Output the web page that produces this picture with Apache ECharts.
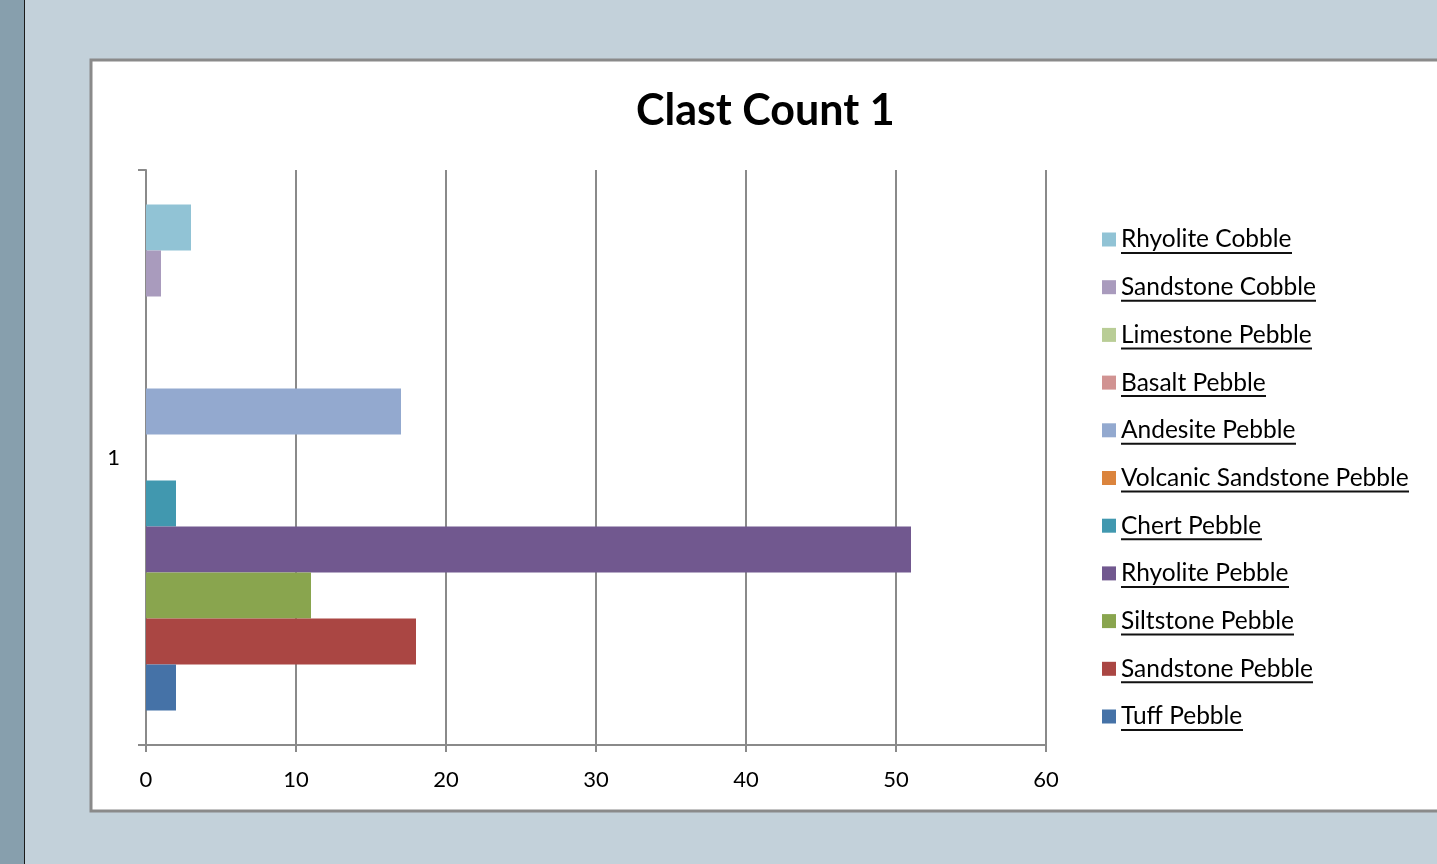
<!DOCTYPE html>
<html>
<head>
<meta charset="utf-8">
<script src="https://cdn.jsdelivr.net/npm/echarts@6/dist/echarts.min.js"></script>
<style>
  html, body { margin: 0; padding: 0; background: #c3d1da; }
  #chart { width: 1437px; height: 864px; }
</style>
</head>
<body>
<div id="chart"></div>
<script>
// data
var categories = ['1'];
var seriesNames = ['Tuff Pebble', 'Sandstone Pebble', 'Siltstone Pebble', 'Rhyolite Pebble',
  'Chert Pebble', 'Volcanic Sandstone Pebble', 'Andesite Pebble', 'Basalt Pebble',
  'Limestone Pebble', 'Sandstone Cobble', 'Rhyolite Cobble'];
var seriesValues = [2, 18, 11, 51, 2, 0, 17, 0, 0, 1, 3];
var seriesColors = ['#4572a7', '#aa4643', '#89a54e', '#71588f', '#4198af', '#db843d',
  '#93a9cf', '#d19392', '#b9cd96', '#a99bbd', '#91c3d5'];
var xTicks = [0, 60, 10]; // min, max, step

var myChart = echarts.init(document.getElementById('chart'));
var font = 'Lato, "Open Sans", sans-serif';
var legendSize = 24.5;

// echarts stacks the first series at the top, excel at the bottom -> feed reversed
var series = seriesNames.map(function (name, i) {
  return {
    name: name,
    type: 'bar',
    data: [seriesValues[i]],
    itemStyle: { color: seriesColors[i] },
    barGap: '0%',
    barCategoryGap: '12%'
  };
}).reverse();

// underlined legend text: white box with a hard shadow 2px below it.
// box width rounded up so the shadow does not bleed at the right edge
var ctx = document.createElement('canvas').getContext('2d');
ctx.font = legendSize + 'px ' + font;
var rich = {};
seriesNames.forEach(function (name, i) {
  rich['u' + i] = {
    fontFamily: font,
    fontSize: legendSize,
    color: '#000',
    lineHeight: 26,
    width: Math.ceil(ctx.measureText(name).width),
    backgroundColor: '#fff',
    shadowColor: '#111',
    shadowOffsetX: 0,
    shadowOffsetY: 2,
    shadowBlur: 0
  };
});

var option = {
  backgroundColor: '#c3d1da',
  animation: false,
  graphic: [
    { type: 'rect', shape: { x: 0, y: 0, width: 24, height: 864 }, style: { fill: '#879fad' }, z: -10 },
    { type: 'line', shape: { x1: 24.5, y1: 0, x2: 24.5, y2: 864 }, style: { stroke: '#1a1a1a', lineWidth: 1 }, z: -10 },
    { type: 'rect', shape: { x: 91, y: 60, width: 1400, height: 751 },
      style: { fill: '#fff', stroke: '#8a8a8a', lineWidth: 3 }, z: -10 }
  ],
  title: {
    text: 'Clast Count 1',
    left: 631,
    top: 85,
    textStyle: { fontFamily: font, fontWeight: 'bold', fontSize: 43, color: '#000' }
  },
  legend: {
    orient: 'vertical',
    left: 1102,
    top: 227,
    padding: 0,
    itemWidth: 14,
    itemHeight: 14,
    itemGap: 22.7,
    icon: 'rect',
    data: seriesNames.slice().reverse(),
    formatter: function (name) { return '{u' + seriesNames.indexOf(name) + '|' + name + '}'; },
    textStyle: { rich: rich }
  },
  grid: { left: 146, right: 391, top: 170, bottom: 119, containLabel: false },
  xAxis: {
    type: 'value',
    min: xTicks[0],
    max: xTicks[1],
    interval: xTicks[2],
    axisLine: { show: true, lineStyle: { color: '#8a8a8a', width: 2 } },
    axisTick: { show: true, length: 7, lineStyle: { color: '#8a8a8a', width: 2 } },
    splitLine: { show: true, lineStyle: { color: '#8a8a8a', width: 2 } },
    axisLabel: { fontFamily: font, fontSize: 22, color: '#000', margin: 24 }
  },
  yAxis: {
    type: 'category',
    data: categories,
    axisLine: { show: true, lineStyle: { color: '#8a8a8a', width: 2 } },
    axisTick: { show: true, length: 8, lineStyle: { color: '#8a8a8a', width: 2 } },
    axisLabel: { fontFamily: font, fontSize: 22, color: '#000', margin: 26 }
  },
  series: series
};
myChart.setOption(option);
</script>
</body>
</html>
